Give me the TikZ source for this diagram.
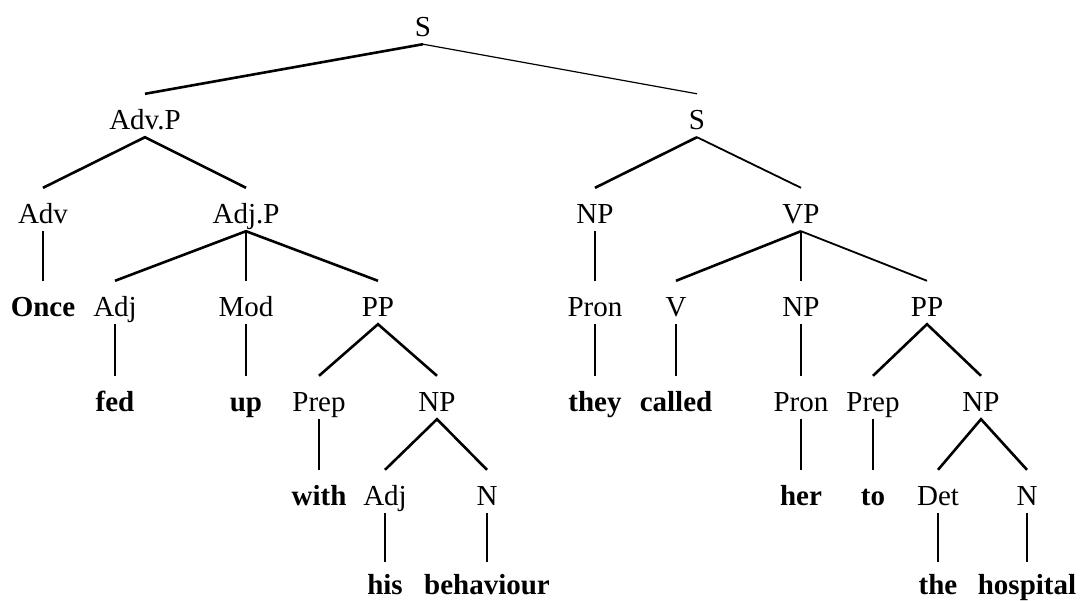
\documentclass[tikz,border=0pt]{standalone}
\usepackage{fontspec}
\setmainfont{Liberation Serif}
\begin{document}
\begin{tikzpicture}[x=1pt,y=-1pt,
  lab/.style={inner sep=0pt, text height=35.3pt, text depth=7.7pt, anchor=base, font=\fontsize{29}{31}\selectfont},
  wrd/.style={lab, font=\fontsize{29}{31}\selectfont\bfseries},
  lastwrd/.style={wrd, text height=32.3pt, text depth=0pt},
  thk/.style={line width=2.6pt, line join=miter},
  med/.style={line width=1.8pt},
  thn/.style={line width=1.2pt}]
\useasboundingbox (0,0) rectangle (1087,600);
% row 0
\node[lab] (S) at (423,36.3) {S};
% row 1
\node[lab] (AdvP) at (145,129.3) {Adv.P};
\node[lab] (S2) at (697,129.3) {S};
% row 2
\node[lab] (Adv) at (43,223.3) {Adv};
\node[lab] (AdjP) at (246,223.3) {Adj.P};
\node[lab] (NP1) at (595,223.3) {NP};
\node[lab] (VP) at (801,223.3) {VP};
% row 3
\node[wrd] (Once) at (43,316.3) {Once};
\node[lab] (Adj1) at (115,316.3) {Adj};
\node[lab] (Mod) at (246,316.3) {Mod};
\node[lab] (PP1) at (378,316.3) {PP};
\node[lab] (Pron1) at (595,316.3) {Pron};
\node[lab] (V) at (676,316.3) {V};
\node[lab] (NP2) at (801,316.3) {NP};
\node[lab] (PP2) at (927,316.3) {PP};
% row 4
\node[wrd] (fed) at (115,411.3) {fed};
\node[wrd] (up) at (246,411.3) {up};
\node[lab] (Prep1) at (319,411.3) {Prep};
\node[lab] (NP3) at (437,411.3) {NP};
\node[wrd] (they) at (595,411.3) {they};
\node[wrd] (called) at (676,411.3) {called};
\node[lab] (Pron2) at (801,411.3) {Pron};
\node[lab] (Prep2) at (873,411.3) {Prep};
\node[lab] (NP4) at (981,411.3) {NP};
% row 5
\node[wrd] (with) at (319,505.3) {with};
\node[lab] (Adj2) at (385,505.3) {Adj};
\node[lab] (N1) at (487,505.3) {N};
\node[wrd] (her) at (801,505.3) {her};
\node[wrd] (to) at (873,505.3) {to};
\node[lab] (Det) at (938,505.3) {Det};
\node[lab] (N2) at (1027,505.3) {N};
% row 6
\node[lastwrd] (his) at (385,594.5) {his};
\node[lastwrd] (behaviour) at (487,594.5) {behaviour};
\node[lastwrd] (the) at (938,594.5) {the};
\node[lastwrd] (hospital) at (1027,594.5) {hospital};
% connectors
\draw[thk] (S.south) -- (AdvP.north);
\draw[thn] (S.south) -- (S2.north);
\draw[thk] (Adv.north) -- (AdvP.south) -- (AdjP.north);
\draw[thk] (S2.south) -- (NP1.north);
\draw[med] (S2.south) -- (VP.north);
\draw[thn] (Adv.south) -- (Once.north);
\draw[thk] (Adj1.north) -- (AdjP.south) -- (PP1.north);
\draw[thn] (AdjP.south) -- (Mod.north);
\draw[thn] (NP1.south) -- (Pron1.north);
\draw[thk] (VP.south) -- (V.north);
\draw[thn] (VP.south) -- (NP2.north);
\draw[med] (VP.south) -- (PP2.north);
\draw[thn] (Adj1.south) -- (fed.north);
\draw[thn] (Mod.south) -- (up.north);
\draw[thk] (Prep1.north) -- (PP1.south) -- (NP3.north);
\draw[thn] (Pron1.south) -- (they.north);
\draw[thn] (V.south) -- (called.north);
\draw[thn] (NP2.south) -- (Pron2.north);
\draw[thk] (Prep2.north) -- (PP2.south) -- (NP4.north);
\draw[thn] (Prep1.south) -- (with.north);
\draw[thk] (Adj2.north) -- (NP3.south) -- (N1.north);
\draw[thn] (Pron2.south) -- (her.north);
\draw[thn] (Prep2.south) -- (to.north);
\draw[thk] (Det.north) -- (NP4.south) -- (N2.north);
\draw[thn] (Adj2.south) -- (his.north);
\draw[thn] (N1.south) -- (behaviour.north);
\draw[thn] (Det.south) -- (the.north);
\draw[thn] (N2.south) -- (hospital.north);
\end{tikzpicture}
\end{document}
